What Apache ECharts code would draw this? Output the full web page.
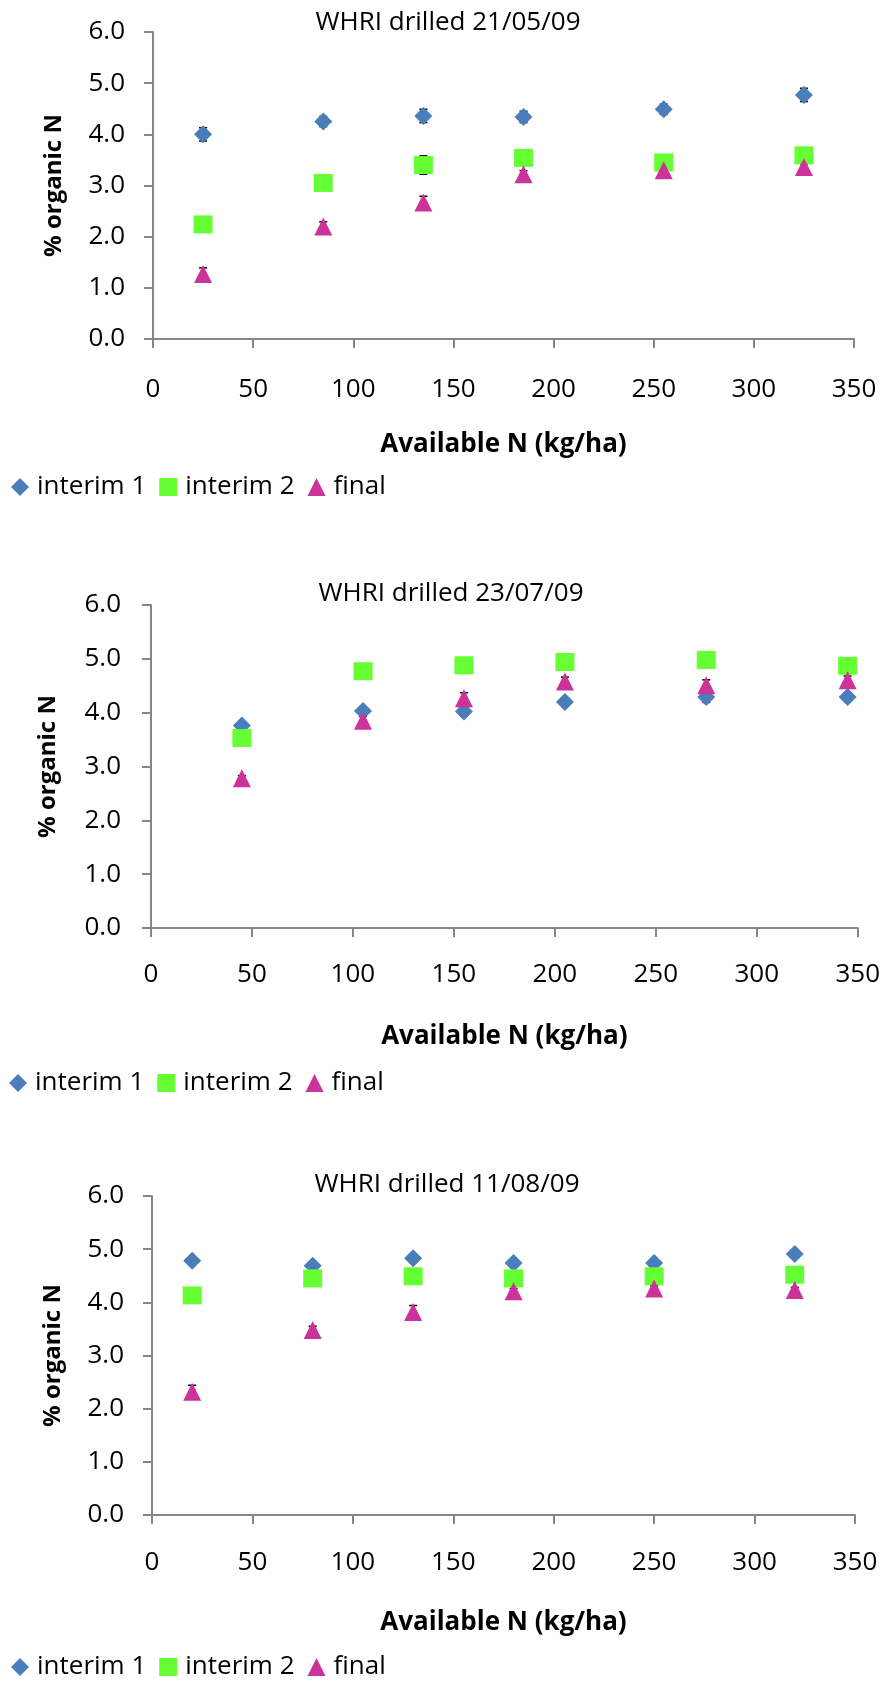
<!DOCTYPE html>
<html>
<head>
<meta charset="utf-8">
<script src="https://cdn.jsdelivr.net/npm/echarts@6/dist/echarts.min.js"></script>
<style>
  html, body { margin: 0; padding: 0; background: #ffffff; }
  .panel { position: absolute; left: 0; width: 883px; }
  #may { top: 0; height: 540px; }
  #july { top: 540px; height: 590px; filter: blur(0.5px); }
  #aug { top: 1130px; height: 554px; }
</style>
</head>
<body>
<div id="may" class="panel"></div>
<div id="july" class="panel"></div>
<div id="aug" class="panel"></div>
<script>
// Shared series definitions and axis text
const seriesNames = ['interim 1', 'interim 2', 'final'];
const xAxisTitle = 'Available N (kg/ha)';
const yAxisTitle = '% organic N';
const xTicks = [0, 50, 100, 150, 200, 250, 300, 350];
const yTicks = [0, 1, 2, 3, 4, 5, 6];

// WHRI drilled 21/05/09
const titleMay = 'WHRI drilled 21/05/09';
const availNMay = [25, 85, 135, 185, 255, 325];
const interim1May = [4.00, 4.25, 4.36, 4.34, 4.49, 4.77];
const interim2May = [2.24, 3.05, 3.40, 3.54, 3.45, 3.59];
const finalMay = [1.27, 2.20, 2.67, 3.22, 3.30, 3.36];
const interim1ErrMay = [0.13, 0.10, 0.13, 0.11, 0.10, 0.13];
const interim2ErrMay = [0.10, 0.10, 0.18, 0.12, 0.10, 0.10];
const finalErrMay = [0.12, 0.09, 0.12, 0.07, 0.06, 0.06];

// WHRI drilled 23/07/09
const titleJuly = 'WHRI drilled 23/07/09';
const availNJuly = [45, 105, 155, 205, 275, 345];
const interim1July = [3.76, 4.03, 4.02, 4.20, 4.29, 4.29];
const interim2July = [3.53, 4.77, 4.88, 4.94, 4.98, 4.87];
const finalJuly = [2.78, 3.85, 4.27, 4.58, 4.51, 4.60];
const interim1ErrJuly = [0.06, 0.08, 0.08, 0.06, 0.10, 0.08];
const interim2ErrJuly = [0.08, 0.08, 0.08, 0.08, 0.08, 0.08];
const finalErrJuly = [0.05, 0.08, 0.10, 0.08, 0.10, 0.08];

// WHRI drilled 11/08/09
const titleAug = 'WHRI drilled 11/08/09';
const availNAug = [20, 80, 130, 180, 250, 320];
const interim1Aug = [4.78, 4.69, 4.83, 4.74, 4.74, 4.91];
const interim2Aug = [4.13, 4.45, 4.49, 4.45, 4.49, 4.52];
const finalAug = [2.32, 3.48, 3.82, 4.21, 4.26, 4.23];
const interim1ErrAug = [0.05, 0.05, 0.08, 0.05, 0.05, 0.08];
const interim2ErrAug = [0.10, 0.10, 0.10, 0.10, 0.10, 0.10];
const finalErrAug = [0.12, 0.07, 0.12, 0.05, 0.05, 0.05];

// Look of the marks
const markerColors = ['#4a7ebb', '#66ff33', '#cc3399'];
const markerSymbols = ['diamond', 'rect', 'triangle'];
const markerSizes = [[18, 18], [19, 18], [18, 18]];
const FONT = '"Open Sans", Lato, sans-serif';
const TEXT_SIZE = 26;
const AXIS_GREY = '#868686';

// Standard-error whiskers: vertical stem with short caps
function errorBar(params, api) {
  const x = api.value(0), y = api.value(1), e = api.value(2);
  const hi = api.coord([x, y + e]);
  const lo = api.coord([x, y - e]);
  const half = 4;
  const style = { stroke: '#000000', lineWidth: 1.5 };
  return {
    type: 'group',
    children: [
      { type: 'line', shape: { x1: hi[0], y1: hi[1], x2: lo[0], y2: lo[1] }, style: style },
      { type: 'line', shape: { x1: hi[0] - half, y1: hi[1], x2: hi[0] + half, y2: hi[1] }, style: style },
      { type: 'line', shape: { x1: lo[0] - half, y1: lo[1], x2: lo[0] + half, y2: lo[1] }, style: style }
    ]
  };
}

function buildOption(title, xs, ys, errs, box) {
  const series = [];
  ys.forEach(function (vals, i) {
    series.push({
      name: seriesNames[i] + ' SE',
      type: 'custom',
      renderItem: errorBar,
      encode: { x: 0, y: 1 },
      data: xs.map(function (x, k) { return [x, vals[k], errs[i][k]]; }),
      z: 1,
      silent: true
    });
  });
  ys.forEach(function (vals, i) {
    series.push({
      name: seriesNames[i],
      type: 'scatter',
      symbol: markerSymbols[i],
      symbolSize: markerSizes[i],
      itemStyle: { color: markerColors[i], opacity: 1 },
      data: xs.map(function (x, k) { return [x, vals[k]]; }),
      z: 2
    });
  });
  return {
    animation: false,
    backgroundColor: '#ffffff',
    title: {
      text: title,
      left: box.titleX,
      top: box.titleTop,
      textAlign: 'center',
      textStyle: { fontFamily: FONT, fontSize: TEXT_SIZE, fontWeight: 'normal', color: '#000000' }
    },
    legend: {
      data: seriesNames.map(function (n, i) { return { name: n, icon: markerSymbols[i] }; }),
      left: box.legendLeft,
      top: box.legendTop,
      itemWidth: 18,
      itemHeight: 18,
      itemGap: 13,
      selectedMode: false,
      textStyle: { fontFamily: FONT, fontSize: TEXT_SIZE, color: '#000000', padding: [0, 0, 0, 3] }
    },
    grid: { left: box.left, top: box.top, width: box.width, height: box.height, containLabel: false },
    xAxis: {
      type: 'value',
      min: xTicks[0],
      max: xTicks[xTicks.length - 1],
      interval: xTicks[1] - xTicks[0],
      name: xAxisTitle,
      nameLocation: 'middle',
      nameGap: box.xNameGap,
      nameTextStyle: { fontFamily: FONT, fontSize: TEXT_SIZE, fontWeight: 'bold', color: '#000000' },
      axisLine: { show: true, onZero: false, lineStyle: { color: AXIS_GREY, width: 2 } },
      axisTick: { show: true, inside: false, length: 9, lineStyle: { color: AXIS_GREY, width: 2 } },
      axisLabel: { fontFamily: FONT, fontSize: TEXT_SIZE, color: '#000000', margin: box.xLabelMargin },
      splitLine: { show: false }
    },
    yAxis: {
      type: 'value',
      min: yTicks[0],
      max: yTicks[yTicks.length - 1],
      interval: yTicks[1] - yTicks[0],
      name: yAxisTitle,
      nameLocation: 'middle',
      nameRotate: 90,
      nameGap: box.yNameGap,
      nameTextStyle: { fontFamily: FONT, fontSize: 24, fontWeight: 'bold', color: '#000000' },
      axisLine: { show: true, lineStyle: { color: AXIS_GREY, width: 2 } },
      axisTick: { show: true, inside: false, length: 9, lineStyle: { color: AXIS_GREY, width: 2 } },
      axisLabel: {
        fontFamily: FONT, fontSize: TEXT_SIZE, color: '#000000', margin: box.yLabelMargin,
        formatter: function (v) { return v.toFixed(1); }
      },
      splitLine: { show: false }
    },
    series: series
  };
}

const panels = [
  {
    id: 'may', title: titleMay, xs: availNMay,
    ys: [interim1May, interim2May, finalMay],
    errs: [interim1ErrMay, interim2ErrMay, finalErrMay],
    box: { left: 153, top: 32, width: 701, height: 307, titleX: 443, titleTop: 5,
           legendLeft: 6, legendTop: 469, xNameGap: 93, yNameGap: 87, xLabelMargin: 38, yLabelMargin: 28 }
  },
  {
    id: 'july', title: titleJuly, xs: availNJuly,
    ys: [interim1July, interim2July, finalJuly],
    errs: [interim1ErrJuly, interim2ErrJuly, finalErrJuly],
    box: { left: 151, top: 65, width: 709, height: 323, titleX: 446, titleTop: 36,
           legendLeft: 4, legendTop: 525, xNameGap: 96, yNameGap: 91, xLabelMargin: 34, yLabelMargin: 30 }
  },
  {
    id: 'aug', title: titleAug, xs: availNAug,
    ys: [interim1Aug, interim2Aug, finalAug],
    errs: [interim1ErrAug, interim2ErrAug, finalErrAug],
    box: { left: 152, top: 66, width: 703, height: 319, titleX: 442, titleTop: 37,
           legendLeft: 6, legendTop: 519, xNameGap: 95, yNameGap: 87, xLabelMargin: 35, yLabelMargin: 28 }
  }
];

panels.forEach(function (p) {
  const chart = echarts.init(document.getElementById(p.id), null, { renderer: 'canvas' });
  chart.setOption(buildOption(p.title, p.xs, p.ys, p.errs, p.box));
});
</script>
</body>
</html>
